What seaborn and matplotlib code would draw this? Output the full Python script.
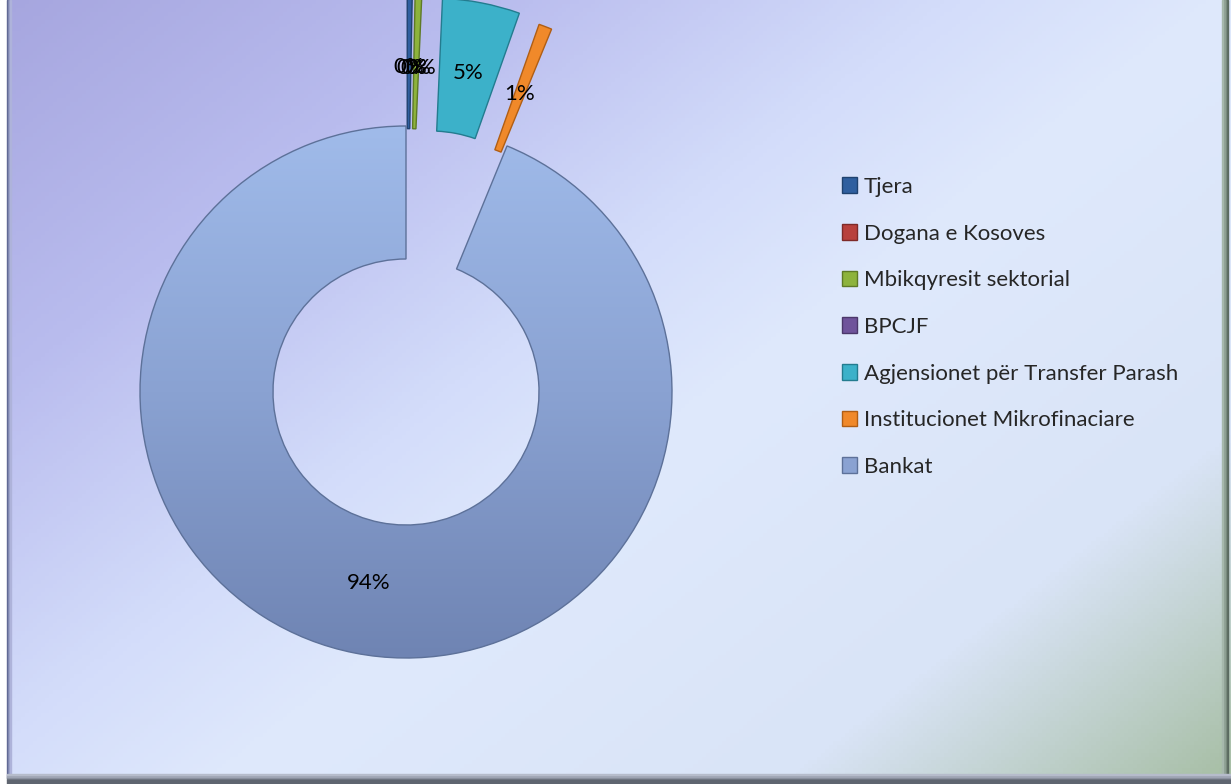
import numpy as np
import matplotlib
matplotlib.use("Agg")
import matplotlib.pyplot as plt
import seaborn as sns
from matplotlib.patches import Patch, Rectangle
from matplotlib.colors import LinearSegmentedColormap

categories = ["Tjera", "Dogana e Kosoves", "Mbikqyresit sektorial", "BPCJF",
              "Agjensionet për Transfer Parash", "Institucionet Mikrofinaciare", "Bankat"]
values = [0.3, 0.0, 0.4, 0.0, 4.7, 0.8, 93.8]
colors = ["#2f5f9f", "#b8403c", "#8db33c", "#6f539b", "#3cb1c9", "#f0892a", "#8aa2d2"]
edge_colors = ["#1f426f", "#7e2a28", "#5e7a26", "#4b376a", "#237c8f", "#b05e14", "#5d7199"]

sns.set_theme(style="white")
plt.rcParams['font.family'] = ['Lato', 'DejaVu Sans']

W, H = 1231, 784
fig = plt.figure(figsize=(W / 100, H / 100), dpi=100)

# background gradient
bg = fig.add_axes([0, 0, 1, 1])
bg.set_axis_off()
yy, xx = np.mgrid[0:1:200j, 0:1:300j]
t = (xx * 0.55 + yy * 0.45)
bg_cmap = LinearSegmentedColormap.from_list(
    "bg", [(0.0, "#a6a6df"), (0.22, "#b9bcee"), (0.42, "#d3dcfa"), (0.55, "#dfe9fc"),
           (0.80, "#d9e4f7"), (1.0, "#a7bea4")])
bg.imshow(t, cmap=bg_cmap, extent=[0, W, H, 0], aspect="auto", origin="upper")
bg.set_xlim(0, W)
bg.set_ylim(H, 0)
# frame edges
bg.add_patch(Rectangle((0, 0), 7, H, color="white", zorder=3))
for i, c in enumerate(["#5c6490", "#7a82ab", "#979dc4", "#aeb3da"]):
    bg.add_patch(Rectangle((7 + i, 0), 1, H - 6, color=c, zorder=3))
for i, c in enumerate(["#5a6a60", "#748579", "#8d9f92", "#a6b8ac"]):
    bg.add_patch(Rectangle((W - 5 - i * 1.5, 0), 1.5, H, color=c, zorder=3))
for i, c in enumerate(["#6e7480", "#868c99", "#9ea4b3", "#b6bccb"]):
    bg.add_patch(Rectangle((7, H - 6 - i * 1.5), W, 1.5, color=c, zorder=3))
bg.add_patch(Rectangle((7, H - 4), W, 4, color="#5f6570", zorder=3))

# doughnut
ax = fig.add_axes([0, 0, 1, 1])
ax.set_axis_off()
ax.patch.set_alpha(0)
cx, cy, R = 406, H - 392, 266
explode = [0.49 * R] * 5 + [0.47 * R, 0.0]
wedges, texts, autotexts = ax.pie(
    values, colors=colors, explode=explode, startangle=90, counterclock=False,
    center=(cx, cy), radius=R, autopct="%.0f%%", pctdistance=0.73,
    wedgeprops=dict(width=R * 0.5, linewidth=1.0),
    textprops=dict(fontsize=16, color="black"), frame=False)
for w, ec, v in zip(wedges, edge_colors, values):
    w.set_edgecolor(ec)
    if v == 0:
        w.set_linewidth(0)

# gradient shading for Bankat
bank = wedges[-1]
g = np.linspace(0, 1, 256).reshape(-1, 1)
bank_cmap = LinearSegmentedColormap.from_list("bank", ["#a0bbea", "#8aa2d2", "#6f84b3"])
im = ax.imshow(g, cmap=bank_cmap, extent=[cx - R, cx + R, cy - R, cy + R],
               origin="upper", aspect="auto", zorder=bank.get_zorder() + 0.1)
im.set_clip_path(bank)
bank.set_zorder(bank.get_zorder() + 0.2)
bank.set_facecolor("none")
for tx in autotexts:
    tx.set_zorder(10)

ax.set_xlim(0, W)
ax.set_ylim(0, H)
ax.set_aspect("auto")

handles = [Patch(facecolor=c, edgecolor=ec, linewidth=1.0) for c, ec in zip(colors, edge_colors)]
fig.legend(handles, categories, loc="upper left", bbox_to_anchor=(833 / W, 1 - 168 / H),
           frameon=False, fontsize=16, handlelength=0.7, handleheight=0.7,
           handletextpad=0.3, labelspacing=1.2, borderaxespad=0)

fig.savefig("out.png", dpi=100)
